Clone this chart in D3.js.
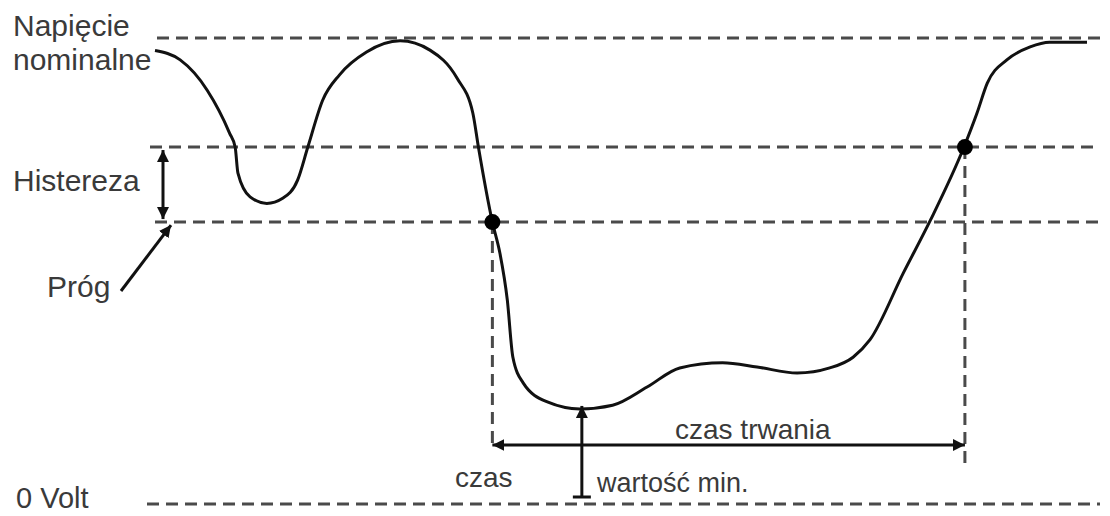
<!DOCTYPE html>
<html>
<head>
<meta charset="utf-8">
<script src="https://cdn.jsdelivr.net/npm/d3@7"></script>
<style>
  html, body { margin: 0; padding: 0; background: #fff; }
  svg { display: block; }
  text { font-family: "Liberation Sans", Arial, sans-serif; fill: #3a3a3a; }
</style>
</head>
<body>
<svg id="chart" width="1110" height="516"></svg>
<script>
// Voltage waveform: time in ms, voltage in % of nominal
const times = [0, 27, 56, 80, 86, 89, 102, 120, 137, 153, 164, 180, 198, 227, 263, 295, 324, 341, 347,
  362, 370, 378, 384, 395, 421, 456, 491, 528, 563, 609, 646, 689, 724, 749, 767, 803, 832, 868,
  882, 893, 914, 939, 960, 1000];
const volts = [97.3, 95.3, 88.8, 79.6, 76.6, 71.0, 65.9, 64.5, 65.6, 69.5, 76.6, 86.7, 92.1, 97.0, 99.4, 97.4, 91.4, 83.9, 76.6,
  60.5, 53.9, 43.8, 31.5, 26.0, 21.9, 20.4, 21.2, 25.1, 29.2, 30.3, 29.4, 28.1, 29.2, 31.5, 35.2, 49.6, 60.9, 76.6,
  83.9, 90.3, 95.3, 98.1, 99.1, 99.1];

// Reference levels (% of nominal)
const levelKeys = ["nominal", "hysteresis", "threshold", "zero"];
const levelValues = [100, 76.6, 60.5, 0];

// Event start (threshold crossing) and end (hysteresis crossing), and the minimum
const eventStart = 362;
const eventEnd = 869;
const minTime = 458;
const minVolt = 20.4;

const svg = d3.select("#chart");
const x = d3.scaleLinear().domain([0, 1000]).range([155, 1087]);
const y = d3.scaleLinear().domain([0, 100]).range([504, 38]);

const level = Object.fromEntries(levelKeys.map((k, i) => [k, levelValues[i]]));

// arrowhead marker
const defs = svg.append("defs");
defs.append("marker")
  .attr("id", "head")
  .attr("viewBox", "0 0 12 12")
  .attr("refX", 12).attr("refY", 6)
  .attr("markerWidth", 12).attr("markerHeight", 12)
  .attr("markerUnits", "userSpaceOnUse")
  .attr("orient", "auto-start-reverse")
  .append("path")
  .attr("d", "M0,0 L12,6 L0,12 Z")
  .attr("fill", "#111");

const dashStyle = sel => sel.attr("stroke", "#4a4a4a").attr("stroke-width", 3).attr("stroke-dasharray", "12,7").attr("fill", "none");

// horizontal reference lines
const lineSpan = { nominal: [157, 1105], hysteresis: [150, 1100], threshold: [155, 1100], zero: [147, 1100] };
svg.append("g").selectAll("line")
  .data(levelKeys)
  .join("line")
  .attr("x1", d => lineSpan[d][0])
  .attr("x2", d => lineSpan[d][1])
  .attr("y1", d => y(level[d]))
  .attr("y2", d => y(level[d]))
  .call(dashStyle);

// vertical markers at event start and end
svg.append("line")
  .attr("x1", x(eventStart)).attr("x2", x(eventStart))
  .attr("y1", y(level.threshold)).attr("y2", 446)
  .call(dashStyle);
svg.append("line")
  .attr("x1", x(eventEnd)).attr("x2", x(eventEnd))
  .attr("y1", y(level.hysteresis)).attr("y2", 468)
  .call(dashStyle);

// waveform
const pts = times.map((t, i) => [t, volts[i]]);
svg.append("path")
  .datum(pts)
  .attr("fill", "none")
  .attr("stroke", "#111")
  .attr("stroke-width", 3)
  .attr("stroke-linejoin", "round")
  .attr("d", d3.line().x(d => x(d[0])).y(d => y(d[1])).curve(d3.curveMonotoneX));

// crossing dots
svg.append("g").selectAll("circle")
  .data([[eventStart, level.threshold], [eventEnd, level.hysteresis]])
  .join("circle")
  .attr("cx", d => x(d[0]))
  .attr("cy", d => y(d[1]))
  .attr("r", 8)
  .attr("fill", "#000");

const arrow = (x1, y1, x2, y2, both) => svg.append("line")
  .attr("x1", x1).attr("y1", y1).attr("x2", x2).attr("y2", y2)
  .attr("stroke", "#111").attr("stroke-width", 3)
  .attr("marker-end", "url(#head)")
  .attr("marker-start", both ? "url(#head)" : null);

// hysteresis double arrow
arrow(163, y(level.hysteresis) + 3, 163, y(level.threshold) - 3, true);
// threshold pointer
arrow(121, 291, 171, y(level.threshold) + 3, false);
// duration double arrow
arrow(x(eventStart), 445, x(eventEnd), 445, true);
// minimum value arrow
arrow(x(minTime), y(0) - 7, x(minTime), y(minVolt) - 3, false);
svg.append("line")
  .attr("x1", x(minTime) - 9).attr("x2", x(minTime) + 9)
  .attr("y1", y(0) - 7).attr("y2", y(0) - 7)
  .attr("stroke", "#111").attr("stroke-width", 3);

// labels
const labels = [
  { t: "Napięcie", x: 13, y: 36, s: 30 },
  { t: "nominalne", x: 13, y: 70, s: 30 },
  { t: "Histereza", x: 13, y: 191, s: 30 },
  { t: "Próg", x: 47, y: 297, s: 30 },
  { t: "0 Volt", x: 16, y: 508, s: 29 },
  { t: "czas", x: 455, y: 487, s: 28 },
  { t: "wartość min.", x: 597, y: 492, s: 27 },
  { t: "czas trwania", x: 675, y: 439, s: 28 }
];
svg.append("g").selectAll("text")
  .data(labels)
  .join("text")
  .attr("x", d => d.x)
  .attr("y", d => d.y)
  .attr("font-size", d => d.s + "px")
  .text(d => d.t);
</script>
</body>
</html>
